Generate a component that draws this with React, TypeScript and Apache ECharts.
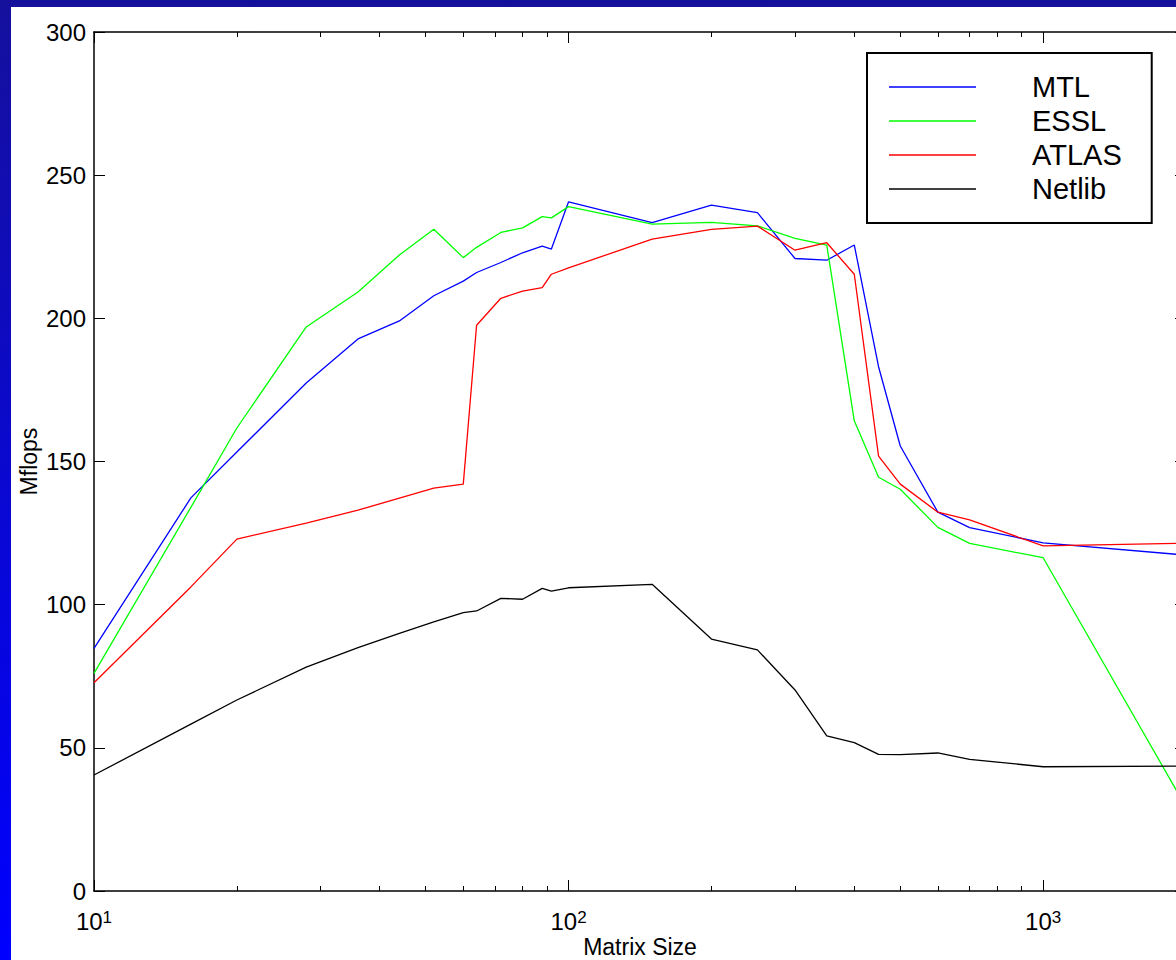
import React, { useEffect, useRef } from "react";
import * as echarts from "echarts";

// Matrix sizes (x, log scale)
const sizes = [10, 16, 20, 28, 36, 44, 52, 60, 64, 72, 80, 88, 92, 100, 150, 200, 250, 300, 350, 400, 450, 500, 600, 700, 1000, 2000];

// Mflops per library
const mtl = [84.7, 137.3, 153.3, 177.4, 192.8, 199.1, 207.9, 213.0, 216.0, 219.5, 222.9, 225.2, 224.2, 240.7, 233.4, 239.5, 236.9, 220.9, 220.3, 225.6, 183.1, 155.4, 132.3, 126.9, 121.6, 117.3];
const essl = [76.0, 134.0, 161.7, 197.0, 209.2, 222.1, 231.1, 221.2, 224.8, 230.0, 231.6, 235.5, 235.1, 239.0, 232.9, 233.5, 232.3, 227.9, 225.6, 164.2, 144.5, 140.3, 127.0, 121.4, 116.4, 29.3];
const atlas = [72.7, 106.2, 122.9, 128.5, 133.0, 137.2, 140.7, 142.1, 197.6, 207.0, 209.5, 210.7, 215.4, 217.6, 227.7, 231.1, 232.2, 223.8, 226.4, 215.4, 151.9, 142.1, 132.3, 129.6, 120.5, 121.5];
const netlib = [40.5, 58.3, 66.7, 78.2, 85.0, 90.0, 94.0, 97.2, 97.8, 102.2, 101.9, 105.7, 104.7, 105.9, 107.1, 88.0, 84.2, 70.2, 54.2, 51.8, 47.7, 47.6, 48.2, 46.0, 43.4, 43.6];

const seriesNames = ["MTL", "ESSL", "ATLAS", "Netlib"];
const seriesValues = [mtl, essl, atlas, netlib];
const seriesColors = ["#0000ff", "#00ff00", "#ff0000", "#000000"];

// Axis ticks
const xMajorTicks = [10, 100, 1000];
const xMinorTicks = [20, 30, 40, 50, 60, 70, 80, 90, 200, 300, 400, 500, 600, 700, 800, 900];
const xMin = 10;
const xMax = 2000;
const yMin = 0;
const yMax = 300;
const yInterval = 50;

const FONT = "'Liberation Sans', Arial, Helvetica, sans-serif";

export default function App() {
  const ref = useRef<HTMLDivElement>(null);

  useEffect(() => {
    document.body.style.margin = "0";
    const chart = echarts.init(ref.current as HTMLDivElement, null, { renderer: "svg" });

    const axisLine = { show: true, lineStyle: { color: "#000", width: 1.5 } };
    const tickLine = { color: "#000", width: 1 };
    const xBase: any = {
      type: "log",
      logBase: 10,
      min: xMin,
      max: xMax,
      gridIndex: 0,
      splitLine: { show: false },
      minorTick: { show: false },
      minorSplitLine: { show: false },
    };

    chart.setOption({
      animation: false,
      textStyle: { fontFamily: FONT },
      grid: { left: 94, top: 32, width: 1092, height: 859, containLabel: false, outerBoundsMode: "none" },
      xAxis: [
        {
          ...xBase,
          position: "bottom",
          axisLine,
          axisTick: { show: true, inside: true, length: 11, customValues: xMajorTicks, lineStyle: tickLine },
          axisLabel: {
            show: true,
            customValues: xMajorTicks,
            margin: 18,
            formatter: (v: number) => `{b|10}{s|${Math.round(Math.log10(v))}}`,
            rich: {
              b: { fontSize: 24, color: "#000", fontFamily: FONT, padding: [8, 0, 0, 0], lineHeight: 24, verticalAlign: "bottom" },
              s: { fontSize: 17, color: "#000", fontFamily: FONT, lineHeight: 17, verticalAlign: "top" },
            },
          },
          name: "Matrix Size",
          nameLocation: "middle",
          nameGap: 44,
          nameMoveOverlap: false,
          nameTextStyle: { fontSize: 23, lineHeight: 24, color: "#000", fontFamily: FONT },
        },
        {
          ...xBase,
          position: "bottom",
          axisLine: { show: false },
          axisTick: { show: true, inside: true, length: 5, customValues: xMinorTicks, lineStyle: tickLine },
          axisLabel: { show: false },
        },
        {
          ...xBase,
          position: "top",
          axisLine,
          axisTick: { show: true, inside: true, length: 11, customValues: xMajorTicks, lineStyle: tickLine },
          axisLabel: { show: false },
        },
        {
          ...xBase,
          position: "top",
          axisLine: { show: false },
          axisTick: { show: true, inside: true, length: 5, customValues: xMinorTicks, lineStyle: tickLine },
          axisLabel: { show: false },
        },
      ],
      yAxis: [
        {
          type: "value",
          min: yMin,
          max: yMax,
          interval: yInterval,
          position: "left",
          axisLine,
          axisTick: { show: true, inside: true, length: 11, lineStyle: tickLine },
          axisLabel: { show: true, fontSize: 24, color: "#000", margin: 8, fontFamily: FONT },
          splitLine: { show: false },
          name: "Mflops",
          nameLocation: "middle",
          nameGap: 54,
          nameMoveOverlap: false,
          nameRotate: 90,
          nameTextStyle: { fontSize: 23, lineHeight: 23, color: "#000", fontFamily: FONT },
        },
        {
          type: "value",
          min: yMin,
          max: yMax,
          interval: yInterval,
          position: "right",
          axisLine,
          axisTick: { show: true, inside: true, length: 11, lineStyle: tickLine },
          axisLabel: { show: false },
          splitLine: { show: false },
        },
      ],
      legend: {
        orient: "vertical",
        left: 867,
        top: 53,
        padding: [17, 30, 17, 22],
        itemGap: 0,
        itemWidth: 87,
        itemHeight: 1.5,
        icon: "rect",
        borderColor: "#000",
        borderWidth: 2,
        backgroundColor: "#fff",
        selectedMode: false,
        textStyle: { fontSize: 29, lineHeight: 34, color: "#000", fontFamily: FONT, padding: [0, 0, 0, 51] },
        data: seriesNames,
      },
      series: seriesNames.map((name, i) => ({
        name,
        type: "line",
        xAxisIndex: 0,
        yAxisIndex: 0,
        symbol: "none",
        color: seriesColors[i],
        lineStyle: { color: seriesColors[i], width: 1.3 },
        data: sizes.map((s, j) => [s, seriesValues[i][j]]),
      })),
    });

    return () => chart.dispose();
  }, []);

  return (
    <div
      style={{
        position: "relative",
        width: 1176,
        height: 960,
        overflow: "hidden",
        background: "linear-gradient(to bottom, #15109c 0%, #0a08d0 50%, #0000ff 100%)",
      }}
    >
      <div style={{ position: "absolute", left: 11, top: 7, right: 0, bottom: 0, background: "#fff" }} />
      <div ref={ref} style={{ position: "absolute", left: 0, top: 0, width: 1220, height: 960 }} />
    </div>
  );
}
